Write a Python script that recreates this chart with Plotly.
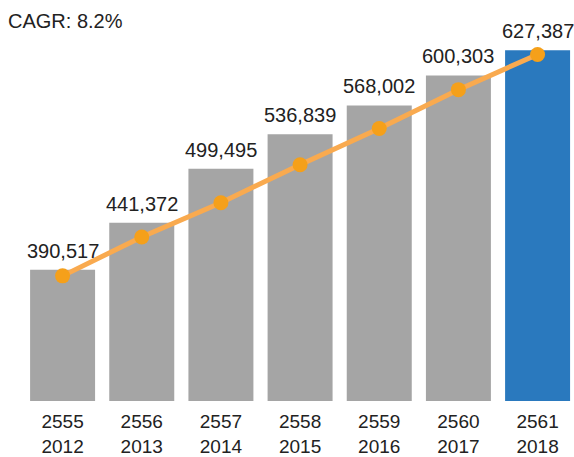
import plotly.graph_objects as go

# ---- data ----
thai_years = ["2555", "2556", "2557", "2558", "2559", "2560", "2561"]
years = ["2012", "2013", "2014", "2015", "2016", "2017", "2018"]
values = [390517, 441372, 499495, 536839, 568002, 600303, 627387]
trend = [384000, 426000, 463000, 504000, 543000, 585000, 623000]
cagr_text = "CAGR: 8.2%"

categories = [f"{t}<br>{y}" for t, y in zip(thai_years, years)]
bar_colors = ["#a5a5a5"] * (len(values) - 1) + ["#2a79be"]
labels = [f"{v:,}" for v in values]

FONT = "Liberation Sans, Arial, Helvetica, sans-serif"
TXT = "#222222"

fig = go.Figure()
fig.add_trace(go.Bar(
    x=categories, y=values,
    marker=dict(color=bar_colors, line=dict(width=0)),
    hoverinfo="skip", showlegend=False,
))
fig.add_trace(go.Scatter(
    x=categories, y=trend, mode="lines+markers",
    line=dict(color="#f9aa4f", width=5),
    marker=dict(color="#f5a01a", size=15),
    cliponaxis=False, hoverinfo="skip", showlegend=False,
))

for c, v, lab in zip(categories, values, labels):
    fig.add_annotation(
        x=c, y=v, text=lab, showarrow=False,
        xanchor="center", yanchor="bottom", yshift=6,
        font=dict(size=20, color=TXT, family=FONT),
    )

fig.add_annotation(
    text=cagr_text, xref="paper", yref="paper",
    x=-0.03, y=0.948, xanchor="left", yanchor="middle",
    showarrow=False, font=dict(size=20, color=TXT, family=FONT),
)

fig.update_layout(
    width=574, height=457,
    margin=dict(l=23, r=0, t=0, b=56, pad=0),
    paper_bgcolor="white", plot_bgcolor="white",
    bargap=0.179,
    font=dict(family=FONT, size=19, color=TXT),
    xaxis=dict(range=[-0.5, 6.46], showgrid=False, zeroline=False,
               showline=False, ticks="", ticklabelstandoff=7,
               tickfont=dict(size=19, color=TXT)),
    yaxis=dict(range=[248942, 681754], visible=False, showgrid=False,
               zeroline=False),
)

fig.write_html("out.html", config={"displayModeBar": False},
               post_script="document.body.style.margin='0';")
